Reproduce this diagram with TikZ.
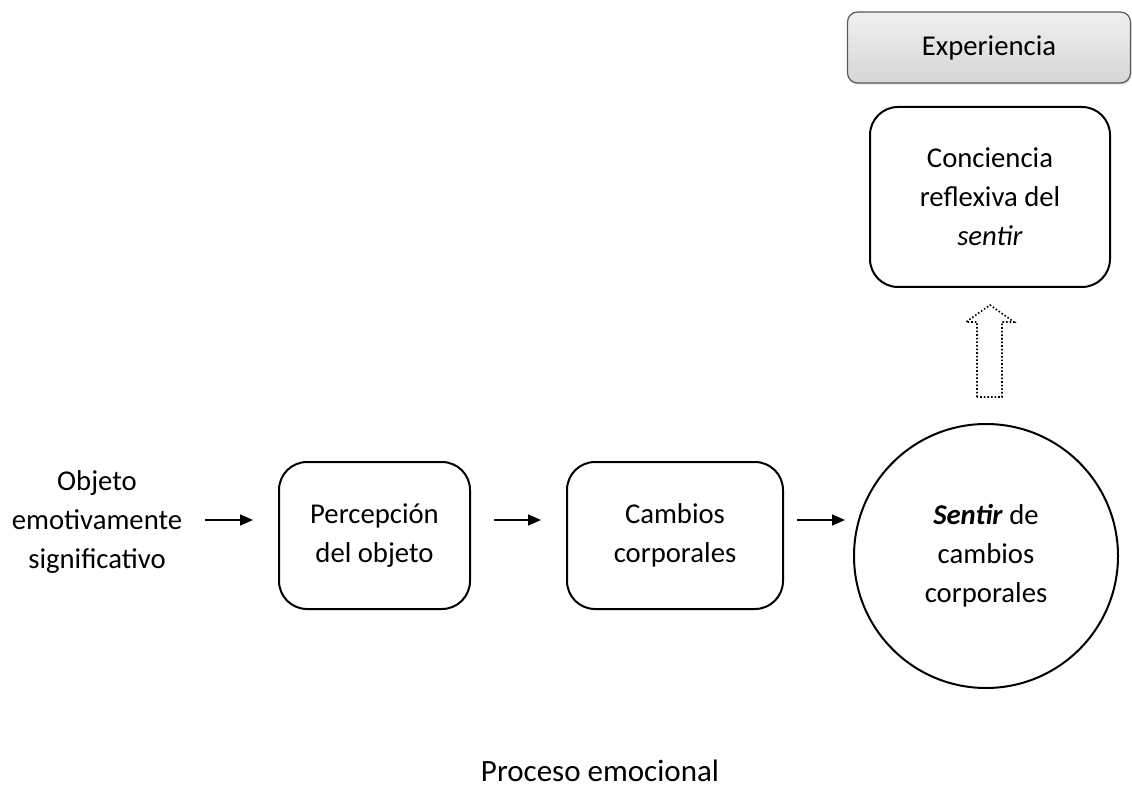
\documentclass[tikz,border=0pt]{standalone}
\usepackage{fontspec}
\setmainfont{Carlito}
\usetikzlibrary{arrows.meta,shadows}
\begin{document}
\begin{tikzpicture}[x=1pt,y=-1pt,
  txt/.style={font=\fontsize{28.7}{39}\selectfont, align=center, inner sep=0pt},
  rbox/.style={draw, line width=2pt, rounded corners=28pt, minimum width=#1, txt},
  conn/.style={-{Triangle[length=13pt,width=11pt]}, line width=2pt}]
\useasboundingbox (0,0) rectangle (1132,791);
\node[draw=black!65, line width=1.2pt, rounded corners=10pt, top color=gray!12, bottom color=gray!32,
  minimum width=283pt, minimum height=71pt, font=\fontsize{28.7}{32}\selectfont,
  drop shadow={shadow xshift=1pt,shadow yshift=-1.5pt,opacity=0.3}] (exp) at (989,47.5) {Experiencia};
\node[rbox=240pt, minimum height=180pt] (conc) at (990,197) {Conciencia\\reflexiva del\\\textit{sentir}};
\node[circle, draw, line width=2pt, minimum size=264pt, txt] (sent) at (986,556) {\textbf{\textit{Sentir}} de\\cambios\\corporales};
\node[rbox=191pt, minimum height=147pt] (perc) at (374.5,535.5) {Percepción\\del objeto};
\node[rbox=216pt, minimum height=147pt] (camb) at (675,535.5) {Cambios\\corporales};
\node[txt] (obj) at (97,522) {Objeto\\emotivamente\\significativo};
\node[font=\fontsize{31}{36}\selectfont, inner sep=0pt, anchor=base] (title) at (600,781) {Proceso emocional};
\coordinate (a1s) at (205,520); \coordinate (a1e) at (253,520);
\coordinate (a2s) at (494,520); \coordinate (a2e) at (541,520);
\coordinate (a3s) at (797,520); \coordinate (a3e) at (845,520);
\draw[conn] (a1s) -- (a1e);
\draw[conn] (a2s) -- (a2e);
\draw[conn] (a3s) -- (a3e);
\draw[line width=1.6pt, dotted] (977,397) -- (977,322) -- (966,322) -- (990,305) -- (1014,322) -- (1002,322) -- (1002,397) -- cycle;
\end{tikzpicture}
\end{document}
